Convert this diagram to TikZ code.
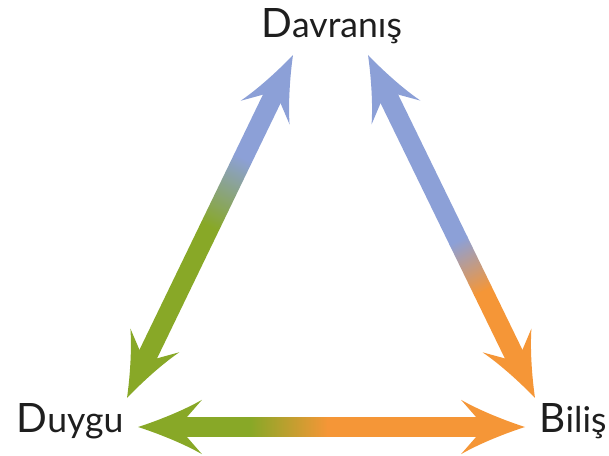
\documentclass[tikz,border=0pt]{standalone}
\usepackage{fontspec}
\setmainfont{Lato}
\usepackage{tikz}
\usepackage{tkz-euclide}
\usetikzlibrary{calc}

\definecolor{arrblue}{HTML}{8CA0D7}
\definecolor{arrgreen}{HTML}{88A827}
\definecolor{arrorange}{HTML}{F59637}
\definecolor{lbltext}{HTML}{1E1E1E}

\newcommand{\shaftw}{0.245}
\newcommand{\capletter}[1]{{\fontsize{28.8}{30}\selectfont #1}}
% #1 -> #2, colour #3 -> #4, blend between #5 and #6 of the length
\newcommand{\gradarrow}[6]{%
  \path let \p1=($(#2)-(#1)$) in
    \pgfextra{\pgfmathsetmacro{\arang}{atan2(\y1,\x1)}%
              \pgfmathsetmacro{\arlen}{veclen(\x1,\y1)/28.45274}%
              \xdef\arang{\arang}\xdef\arlen{\arlen}};
  \begin{scope}[transform canvas={shift={(#1)},rotate=\arang}]
    \fill[#3] (1.1,-\shaftw) rectangle ({#5*\arlen+0.02},\shaftw);
    \shade[left color=#3,right color=#4] ({#5*\arlen},-\shaftw) rectangle ({#6*\arlen},\shaftw);
    \fill[#4] ({#6*\arlen-0.02},-\shaftw) rectangle ({\arlen-1.1},\shaftw);
    \pic[fill=#3,rotate=180] at (0,0) {arrowhd};
    \pic[fill=#4] at (\arlen,0) {arrowhd};
  \end{scope}}

\begin{document}
\begin{tikzpicture}[
    lbl/.style={anchor=base,text=lbltext,inner sep=0pt,font=\fontsize{25.3}{27}\selectfont},
    arrowhd/.pic={\path[pic actions] (0,0) .. controls (-0.5,0.16) and (-1.15,0.42) .. (-1.6,0.68)
        .. controls (-1.4,0.45) .. (-1.22,\shaftw) -- (-1.22,-\shaftw)
        .. controls (-1.4,-0.45) .. (-1.6,-0.68)
        .. controls (-1.15,-0.42) and (-0.5,-0.16) .. cycle;}]
    \useasboundingbox (0,0) rectangle (15.225,11.375);
    \tkzDefPoints{3.175/1.425/Dl, 7.325/10/Vl, 9.2/10/Vr, 13.375/1.425/Br, 3.45/0.7/Db, 13.125/0.7/Bb}

    \node[lbl] (davranis) at (8.29,10.425) {\capletter{D}avranış};
    \node[lbl] (duygu) at (1.75,0.575) {\capletter{D}uygu};
    \node[lbl] (bilis) at (14.325,0.575) {\capletter{B}iliş};

    \gradarrow{Dl}{Vl}{arrgreen}{arrblue}{0.50}{0.70}
    \gradarrow{Vr}{Br}{arrblue}{arrorange}{0.54}{0.69}
    \gradarrow{Db}{Bb}{arrgreen}{arrorange}{0.29}{0.49}
\end{tikzpicture}
\end{document}
